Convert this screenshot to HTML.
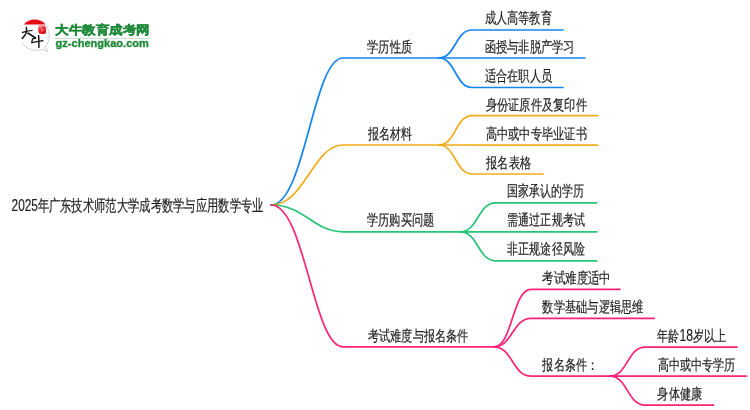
<!DOCTYPE html>
<html><head><meta charset="utf-8"><style>
html,body{margin:0;padding:0;background:#fff;width:750px;height:410px;overflow:hidden}
svg{position:absolute;left:0;top:0;will-change:transform}
text{font-family:"Liberation Sans",sans-serif;fill:#1e1e1e;stroke:#1e1e1e;stroke-width:0.2px}
text.lg{fill:#1f8a3a}
</style></head><body>
<svg width="750" height="410" viewBox="0 0 750 410">

<defs>
  <linearGradient id="sg" x1="0" y1="0" x2="0.3" y2="1">
    <stop offset="0" stop-color="#f4a0a0"/>
    <stop offset="0.45" stop-color="#e8383a"/>
    <stop offset="1" stop-color="#e30613"/>
  </linearGradient>
</defs>
<g>
  <path d="M45.8,25.2 C48.5,28.5 49.6,33 49.2,37.5 C48.8,41.5 47.2,44.8 44.8,47.5 L48.2,51.8 L42.6,49.4 C40.4,50.1 37.9,50.4 35.4,50.3 C30,50.1 25,47.2 22.8,43" fill="none" stroke="#c8c8c8" stroke-width="0.9"/>
  <path d="M22.8,43 C21.5,40.5 21,38 21.1,35.5" fill="none" stroke="#ececec" stroke-width="0.8"/>
  <path d="M23.8,24.6 A14.2,14.2 0 0 1 45.6,24.6 Z" fill="#e30613"/>
  <path d="M38.6,25.6 C40.5,24.9 43.5,25 45.2,25.8 C46.2,28 46.4,31.2 45.6,33.4 C43.8,34.1 41.2,34 39.2,33.6 C38,31.5 37.8,28.2 38.6,25.6 Z" fill="url(#sg)"/>
  <path d="M39.8,27.2 L42.2,27 M40.5,28.8 L43.6,29.8 M41.2,31.2 L43.2,30.8" stroke="#fcd" stroke-width="0.6" fill="none"/>
  <path d="M22.4,32.4 C25,31.8 28.5,30.9 32,30.5" stroke="#111" stroke-width="1.25" fill="none" stroke-linecap="round"/>
  <path d="M26.3,27.5 C27.2,30.5 26.5,34.5 22.3,38.4" stroke="#111" stroke-width="1.45" fill="none" stroke-linecap="round"/>
  <path d="M28,33.2 C30.5,34.6 33,36.2 35.4,37.9" stroke="#111" stroke-width="1.7" fill="none" stroke-linecap="round"/>
  <path d="M32.3,38.9 L35.3,38.3 M32.6,39 L31.6,42.6 L43,40.7" stroke="#111" stroke-width="1.2" fill="none" stroke-linecap="round" stroke-linejoin="round"/>
  <path d="M38.6,35.6 C38.9,39.2 39,43.2 38.9,47.4" stroke="#111" stroke-width="1.45" fill="none" stroke-linecap="round"/>
</g>
<text class="lg" x="55.3" y="34" font-size="12.3" font-weight="bold" textLength="94.5" lengthAdjust="spacingAndGlyphs" style="stroke:#1f8a3a;stroke-width:0.45px">大牛教育成考网</text>
<rect x="54.5" y="38" width="95.5" height="1" fill="#cfe0cf"/>
<text class="lg" x="55.6" y="47.4" font-size="11" font-weight="bold" textLength="93.3" lengthAdjust="spacingAndGlyphs" style="stroke:#1f8a3a;stroke-width:0.35px">gz-chengkao.com</text>

<g fill="none" stroke-width="1.7" stroke-linecap="round">
<path d="M271,205 C305,205 313,58 343,58 L439,58" stroke="#1285f5"/>
<path d="M271,205 C305,205 313,145 343,145 L439,145" stroke="#f2ab1a"/>
<path d="M271,205 C305,205 313,231.8 343,231.8 L460.5,231.8" stroke="#26c477"/>
<path d="M271,205 C305,205 313,346.8 343,346.8 L494,346.8" stroke="#ff2277"/>
<path d="M439,58 C455.50,58 455.50,30 472,30 L563,30" stroke="#1285f5"/>
<path d="M439,58 L585,58" stroke="#1285f5"/>
<path d="M439,58 C455.50,58 455.50,87.5 472,87.5 L563,87.5" stroke="#1285f5"/>
<path d="M439,145 C455.50,145 455.50,115.6 472,115.6 L597.6,115.6" stroke="#f2ab1a"/>
<path d="M439,145 L597.6,145.1" stroke="#f2ab1a"/>
<path d="M439,145 C455.50,145 455.50,174 472,174 L543,174" stroke="#f2ab1a"/>
<path d="M460.5,231.8 C478.00,231.8 478.00,202.8 495.5,202.8 L596.5,202.8" stroke="#26c477"/>
<path d="M460.5,231.8 L596.8,231.8" stroke="#26c477"/>
<path d="M460.5,231.8 C478.00,231.8 478.00,260.8 495.5,260.8 L596.8,260.8" stroke="#26c477"/>
<path d="M494,346.8 C512.50,346.8 512.50,289.3 531,289.3 L620,289.3" stroke="#ff2277"/>
<path d="M494,346.8 C512.50,346.8 512.50,318.3 531,318.3 L654.2,318.3" stroke="#ff2277"/>
<path d="M494,346.8 C512.50,346.8 512.50,376.1 531,376.1 L610,376.1" stroke="#ff2277"/>
<path d="M610,376.1 C627.50,376.1 627.50,347.1 645,347.1 L737,347.1" stroke="#ff2277"/>
<path d="M610,376.1 L746.5,376.1" stroke="#ff2277"/>
<path d="M610,376.1 C627.50,376.1 627.50,405.1 645,405.1 L713.5,405.1" stroke="#ff2277"/>
</g>
<g>
<text x="11.6" y="210.50" font-size="17" textLength="26.3" lengthAdjust="spacingAndGlyphs">2025</text>
<text x="37.6" y="210.50" font-size="16" textLength="226" lengthAdjust="spacingAndGlyphs">年广东技术师范大学成考数学与应用数学专业</text>
<text x="367.10" y="52.35" font-size="15" textLength="44.88" lengthAdjust="spacingAndGlyphs">学历性质</text>
<text x="368.00" y="139.06" font-size="15" textLength="44.10" lengthAdjust="spacingAndGlyphs">报名材料</text>
<text x="366.90" y="225.32" font-size="15" textLength="67.37" lengthAdjust="spacingAndGlyphs">学历购买问题</text>
<text x="368.00" y="340.68" font-size="15" textLength="100.49" lengthAdjust="spacingAndGlyphs">考试难度与报名条件</text>
<text x="484.70" y="23.22" font-size="15" textLength="67.20" lengthAdjust="spacingAndGlyphs">成人高等教育</text>
<text x="484.60" y="51.72" font-size="15" textLength="90.09" lengthAdjust="spacingAndGlyphs">函授与非脱产学习</text>
<text x="484.70" y="80.70" font-size="15" textLength="67.31" lengthAdjust="spacingAndGlyphs">适合在职人员</text>
<text x="485.70" y="109.92" font-size="15" textLength="101.10" lengthAdjust="spacingAndGlyphs">身份证原件及复印件</text>
<text x="485.70" y="139.25" font-size="15" textLength="101.10" lengthAdjust="spacingAndGlyphs">高中或中专毕业证书</text>
<text x="486.20" y="167.90" font-size="15" textLength="44.68" lengthAdjust="spacingAndGlyphs">报名表格</text>
<text x="507.40" y="196.44" font-size="15" textLength="76.72" lengthAdjust="spacingAndGlyphs">国家承认的学历</text>
<text x="507.40" y="225.34" font-size="15" textLength="77.19" lengthAdjust="spacingAndGlyphs">需通过正规考试</text>
<text x="507.40" y="254.34" font-size="15" textLength="77.19" lengthAdjust="spacingAndGlyphs">非正规途径风险</text>
<text x="542.40" y="283.45" font-size="15" textLength="68.42" lengthAdjust="spacingAndGlyphs">考试难度适中</text>
<text x="542.40" y="312.05" font-size="15" textLength="101.14" lengthAdjust="spacingAndGlyphs">数学基础与逻辑思维</text>
<text x="542.40" y="369.58" font-size="15" textLength="55.57" lengthAdjust="spacingAndGlyphs">报名条件：</text>
<text x="657.40" y="340.91" font-size="15" textLength="68.53" lengthAdjust="spacingAndGlyphs">年龄<tspan font-size="16.5">18</tspan>岁以上</text>
<text x="657.50" y="369.93" font-size="15" textLength="77.59" lengthAdjust="spacingAndGlyphs">高中或中专学历</text>
<text x="657.40" y="398.68" font-size="15" textLength="44.55" lengthAdjust="spacingAndGlyphs">身体健康</text>
</g>
</svg>
</body></html>
